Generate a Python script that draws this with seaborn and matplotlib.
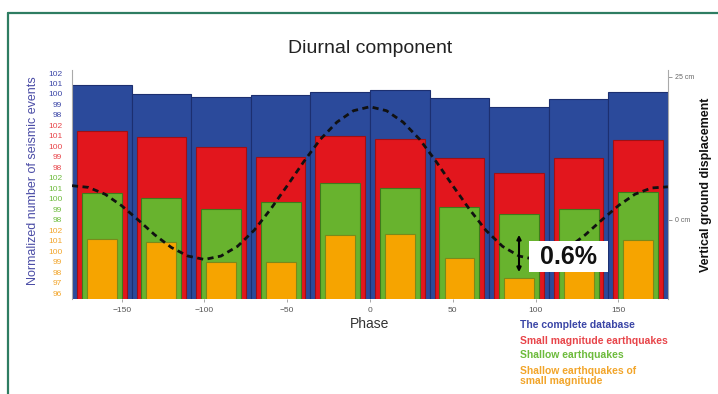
import matplotlib
matplotlib.use("Agg")
import matplotlib.pyplot as plt
from matplotlib.lines import Line2D
import seaborn as sns

# Phase bins (degrees), one bar per 36 degree bin
phase = [-162, -126, -90, -54, -18, 18, 54, 90, 126, 162]

# Normalized number of seismic events (%)
complete_db = [100.85, 100.0, 99.7, 99.9, 100.2, 100.4, 99.6, 98.75, 99.5, 100.2]
small_mag = [101.45, 100.9, 99.95, 99.0, 101.0, 100.7, 98.9, 97.45, 98.9, 100.6]
shallow = [100.55, 100.05, 99.0, 99.7, 101.5, 101.05, 99.2, 98.55, 99.0, 100.65]
shallow_small = [101.15, 100.85, 98.95, 98.95, 101.55, 101.65, 99.35, 97.45, 100.1, 101.05]

# Vertical ground displacement (cm) along the phase
curve_phase = [-180, -170, -160, -150, -140, -130, -120, -110, -100, -90,
               -80, -70, -60, -50, -40, -30, -20, -10, 0, 10, 20, 30, 40,
               50, 60, 70, 80, 90, 100, 110, 120, 130, 140, 150, 160, 170, 180]
curve_cm = [6.0, 5.7, 4.5, 2.5, 0.0, -2.6, -4.8, -6.3, -6.9, -6.3,
            -4.6, -1.8, 1.9, 6.0, 10.2, 14.1, 17.1, 19.1, 19.8, 19.1, 17.1, 14.1, 10.2,
            6.0, 1.9, -1.8, -4.6, -6.3, -6.9, -6.3, -4.8, -2.6, 0.0, 2.5, 4.5, 5.6, 5.8]

x_ticks = [-150, -100, -50, 0, 50, 100, 150]
series_names = ["The complete database", "Small magnitude earthquakes",
                "Shallow earthquakes", "Shallow earthquakes of\nsmall magnitude"]
series_ticks = [[98, 99, 100, 101, 102], [98, 99, 100, 101, 102],
                [98, 99, 100, 101, 102], [96, 97, 98, 99, 100, 101, 102]]

sns.set_style("white")
plt.rcParams["font.family"] = ["Liberation Sans", "DejaVu Sans"]

fill_colors = ["#2B4A9B", "#E2161D", "#68B32E", "#F6A400"]
edge_colors = ["#1C2F70", "#A01015", "#3F7A1B", "#7A8A1A"]
label_colors = ["#3A45A6", "#E8454A", "#6DBB3C", "#F2A52A"]
bar_widths = [1.0, 0.83, 0.67, 0.5]

fig = plt.figure(figsize=(7.18, 3.94), dpi=100)
ax = fig.add_axes([72 / 718, 1 - 299 / 394, 596 / 718, 229 / 394])

# each series gets its own stacked y scale on the left
px_per_unit = 10.48
span = 229 / px_per_unit
all_vals = [complete_db, small_mag, shallow, shallow_small]
axes = [ax]
for k in range(1, 4):
    tw = ax.twinx()
    tw.yaxis.tick_left()
    axes.append(tw)

for k, a in enumerate(axes):
    sns.barplot(x=phase, y=all_vals[k], native_scale=True, width=bar_widths[k],
                color=fill_colors[k], edgecolor=edge_colors[k], linewidth=0.8,
                saturation=1, errorbar=None, ax=a)
    top = 102.29 + 5 * k
    a.set_ylim(top - span, top)
    a.set_yticks(series_ticks[k])
    a.set_yticklabels([str(t) for t in series_ticks[k]])
    a.tick_params(axis="y", which="both", left=True, right=False, labelleft=True,
                  labelright=False, length=0, pad=7, labelsize=6,
                  labelcolor=label_colors[k])
    for s in a.spines.values():
        s.set_visible(False)
    a.set_ylabel("")

ax.spines["left"].set_visible(True)
ax.spines["left"].set_color("#aaaaaa")
ax.spines["left"].set_linewidth(0.8)

# displacement curve on its own right-hand scale
axc = ax.twinx()
sns.lineplot(x=curve_phase, y=curve_cm, ax=axc, color="#111111", lw=2,
             linestyle=(0, (2.2, 1.6)))
axc.set_ylim(-13.81, 26.22)
axc.set_yticks([0, 25])
axc.set_yticklabels(["0 cm", "25 cm"])
axc.tick_params(axis="y", length=3, width=0.6, pad=2, labelsize=5,
                labelcolor="#666666", color="#888888")
for s in axc.spines.values():
    s.set_visible(False)
axc.spines["right"].set_visible(True)
axc.spines["right"].set_color("#aaaaaa")
axc.spines["right"].set_linewidth(0.8)
axc.set_ylabel("")

# 0.6% amplitude marker
axc.annotate("", xy=(phase[7], -9.1), xytext=(phase[7], -2.6),
             arrowprops=dict(arrowstyle="<|-|>", color="black", lw=1.5,
                             mutation_scale=6, shrinkA=0, shrinkB=0))
axc.text(120, -6.4, " 0.6% ", ha="center", va="center", fontsize=18,
         fontweight="bold", color="#111111", zorder=10,
         bbox=dict(boxstyle="square,pad=0.15", fc="white", ec="none"))

ax.set_xlim(-180, 180)
ax.set_xticks(x_ticks)
ax.set_xticklabels([f"{t}".replace("-", "\u2212") for t in x_ticks])
ax.tick_params(axis="x", bottom=True, length=2, width=0.6, pad=4, labelsize=6,
               labelcolor="#555555", color="#999999")
ax.set_xlabel("Phase", fontsize=10, color="#333333", labelpad=2)
ax.set_title("Diurnal component", fontsize=14, color="#222222", pad=12)

fig.text(33 / 718, 1 - 181 / 394, "Normalized number of seismic events",
         rotation=90, ha="center", va="center", fontsize=9, color="#4B4DA6")
fig.text(706 / 718, 1 - 185 / 394, "Vertical ground displacement",
         rotation=90, ha="center", va="center", fontsize=9,
         fontweight="bold", color="#111111")

# coloured text legend
legend_y = [325, 341, 355, 376]
for k, name in enumerate(series_names):
    fig.text(520 / 718, 1 - legend_y[k] / 394, name, ha="left", va="center",
             fontsize=7.5, fontweight="bold", color=label_colors[k],
             linespacing=0.95)

# page frame
frame = "#2E7D62"
fig.add_artist(Line2D([8 / 718, 8 / 718], [0, 1 - 13 / 394],
                      transform=fig.transFigure, color=frame, lw=1.6))
fig.add_artist(Line2D([8 / 718, 1], [1 - 13 / 394, 1 - 13 / 394],
                      transform=fig.transFigure, color=frame, lw=1.6))

fig.savefig("out.png", dpi=100)
